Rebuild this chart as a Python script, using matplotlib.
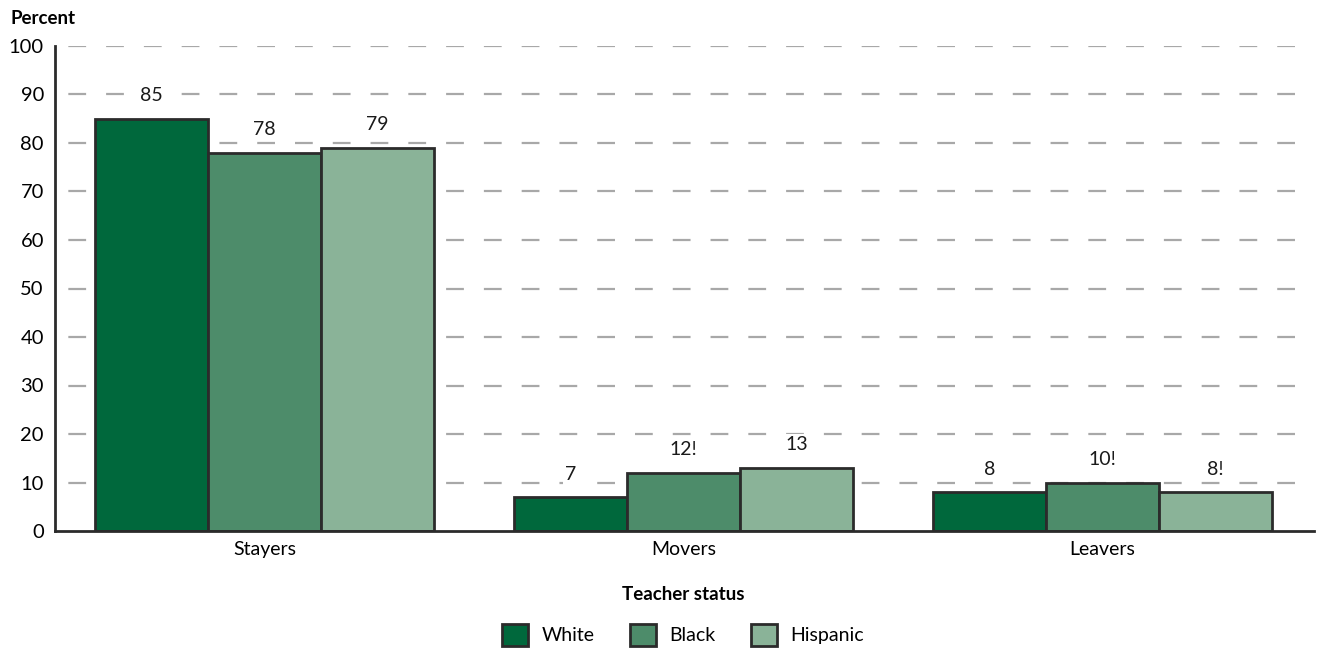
import matplotlib.pyplot as plt
import numpy as np

# data
categories = ['Stayers', 'Movers', 'Leavers']
groups = ['White', 'Black', 'Hispanic']
white = [85, 7, 8]
black = [78, 12, 10]
hispanic = [79, 13, 8]
white_lbl = ['85', '7', '8']
black_lbl = ['78', '12!', '10!']
hispanic_lbl = ['79', '13', '8!']
yticks = [0, 10, 20, 30, 40, 50, 60, 70, 80, 90, 100]

colors = ['#00683C', '#4D8C6A', '#8AB398']
edge = '#2B2B2B'

plt.rcParams['font.family'] = ['Lato', 'DejaVu Sans']

fig = plt.figure(figsize=(13.18, 6.48), dpi=100)
ax = fig.add_axes([55 / 1318, 1 - 531 / 648, 1259 / 1318, 485 / 648])

x = np.arange(len(categories))
w = 0.27
series = [white, black, hispanic]
labels = [white_lbl, black_lbl, hispanic_lbl]

# grid first so bars sit on top
for t in yticks[1:]:
    ax.axhline(t, color='#A8A8A8', lw=1.6, ls=(11, (8, 9)), zorder=0)

for i, (vals, lbls) in enumerate(zip(series, labels)):
    pos = x + (i - 1) * w
    ax.bar(pos, vals, width=w, color=colors[i], edgecolor=edge, linewidth=2,
           label=groups[i], zorder=2)
    for p, v, l in zip(pos, vals, lbls):
        ax.text(p, v + 3, l, ha='center', va='bottom', fontsize=14,
                color='#1a1a1a', zorder=3,
                bbox=dict(facecolor='white', edgecolor='none', pad=1.5))

ax.set_xlim(-0.5, 2.505)
ax.set_ylim(0, 100)
ax.set_yticks(yticks)
ax.set_xticks(x)
ax.set_xticklabels(categories, fontsize=14)
ax.tick_params(axis='y', labelsize=14.5, length=0, pad=8)
ax.tick_params(axis='x', length=0, pad=7)
for s in ['top', 'right']:
    ax.spines[s].set_visible(False)
for s in ['left', 'bottom']:
    ax.spines[s].set_color(edge)
    ax.spines[s].set_linewidth(2)

fig.text(10 / 1318, 1 - 18 / 648, 'Percent', fontsize=13.5, fontweight='bold',
         ha='left', va='center')
fig.text(683 / 1318, 1 - 594 / 648, 'Teacher status', fontsize=13.5,
         fontweight='bold', ha='center', va='center')

leg = fig.legend(loc='center', bbox_to_anchor=(683 / 1318, 1 - 635 / 648),
                 ncol=3, frameon=False, fontsize=14, handlelength=1.35,
                 handleheight=1.35, columnspacing=1.8, handletextpad=0.7)

fig.savefig('out.png', dpi=100)
